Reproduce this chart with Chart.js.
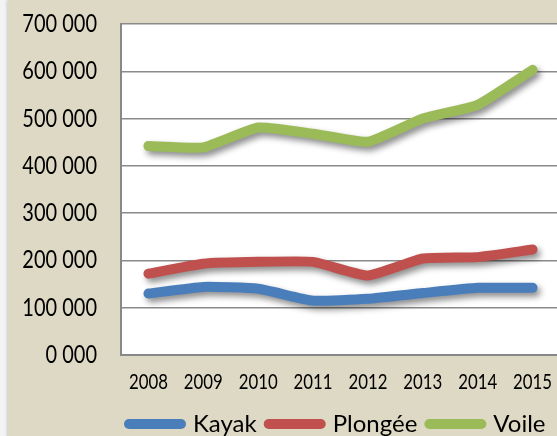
<!DOCTYPE html>
<html>
<head>
<meta charset="utf-8">
<script src="https://cdn.jsdelivr.net/npm/chart.js@4/dist/chart.umd.min.js"></script>
<style>
  html, body { margin: 0; padding: 0; width: 557px; height: 436px; overflow: hidden; background: #f3f3f3; }
  #wrap { position: absolute; left: 8px; top: 0; width: 560px; height: 446px; background: #ddd9c4;
          box-shadow: -1px 0 3px rgba(0,0,0,0.18); }
  canvas { display: block; }
</style>
</head>
<body>
<div id="wrap"><canvas id="c" width="560" height="446"></canvas></div>
<script>
// Fréquentation par activité nautique, 2008–2015
const years = ['2008', '2009', '2010', '2011', '2012', '2013', '2014', '2015'];
const kayak = [130000, 144000, 140000, 115000, 119000, 131000, 142000, 142000];
const plongee = [172000, 193000, 197000, 197000, 168000, 204000, 207000, 223000];
const voile = [442000, 439000, 481000, 468000, 451000, 500000, 529000, 603000];
const yTickLabels = ['0 000', '100 000', '200 000', '300 000', '400 000', '500 000', '600 000', '700 000'];

const GRID = '#8a8a8a';
const AXIS = '#888888';
const TICK_FONT = 'Lato, "Open Sans", sans-serif';
const LEGEND_PAD = 12;

// Axis labels use a condensed face: squeeze them horizontally while the chart paints
const condensedText = {
  id: 'condensedText',
  beforeDraw(chart) {
    const ctx = chart.ctx;
    const orig = ctx.fillText;
    const squeeze = new Map();
    yTickLabels.forEach(t => squeeze.set(t, 0.8));
    years.forEach(t => squeeze.set(t, 0.8));
    chart.$origFillText = orig;
    ctx.fillText = function (text, x, y, maxWidth) {
      const k = squeeze.get(String(text));
      if (k && maxWidth === undefined) {
        return orig.call(this, text, x, y, this.measureText(text).width * k);
      }
      return maxWidth === undefined ? orig.call(this, text, x, y) : orig.call(this, text, x, y, maxWidth);
    };
  },
  afterDraw(chart) {
    if (chart.$origFillText) chart.ctx.fillText = chart.$origFillText;
  }
};

// Legend row starts just under the plot's left edge and stays on one line
const legendPlacement = {
  id: 'legendPlacement',
  afterLayout(chart) {
    const lg = chart.legend;
    if (lg) {
      lg.left = chart.chartArea.left + 8 - LEGEND_PAD;
      lg.right = chart.width + 100;
    }
  }
};

// Soft drop shadow under each series line
const lineShadow = {
  id: 'lineShadow',
  beforeDatasetDraw(chart) {
    const ctx = chart.ctx;
    ctx.save();
    ctx.shadowColor = 'rgba(0,0,0,0.45)';
    ctx.shadowBlur = 6;
    ctx.shadowOffsetX = 3;
    ctx.shadowOffsetY = 4;
  },
  afterDatasetDraw(chart) {
    chart.ctx.restore();
  }
};

// White plot area behind the grid
const plotBg = {
  id: 'plotBg',
  beforeDraw(chart) {
    const { ctx, chartArea: a } = chart;
    ctx.save();
    ctx.fillStyle = '#ffffff';
    ctx.fillRect(a.left, a.top, a.right - a.left, a.bottom - a.top);
    ctx.restore();
  }
};

function series(label, data, color) {
  return {
    label, data,
    borderColor: color,
    backgroundColor: color,
    borderWidth: 10,
    borderCapStyle: 'round',
    borderJoinStyle: 'round',
    pointRadius: 0,
    pointHoverRadius: 0,
    pointStyle: 'line',
    tension: 0.15,
    fill: false
  };
}

new Chart(document.getElementById('c'), {
  type: 'line',
  data: {
    labels: years,
    datasets: [
      series('Kayak', kayak, '#4a7ebb'),
      series('Plongée', plongee, '#c0504d'),
      series('Voile', voile, '#9bbb59')
    ]
  },
  options: {
    responsive: false,
    animation: false,
    events: [],
    layout: { padding: { top: 24, right: 8, left: 0, bottom: 0 } },
    plugins: {
      tooltip: { enabled: false },
      legend: {
        position: 'bottom',
        align: 'start',
        labels: {
          usePointStyle: true,
          pointStyleWidth: 52,
          padding: LEGEND_PAD,
          color: '#000000',
          font: { family: TICK_FONT, size: 24 },
          generateLabels(chart) {
            const items = Chart.defaults.plugins.legend.labels.generateLabels(chart);
            items.forEach((it) => {
              const ds = chart.data.datasets[it.datasetIndex];
              it.lineCap = 'round';
              it.lineWidth = 10;
              it.strokeStyle = ds.borderColor;
              it.fillStyle = ds.borderColor;
            });
            return items;
          }
        }
      }
    },
    scales: {
      x: {
        offset: true,
        grid: { display: false, drawTicks: false },
        border: { display: true, color: AXIS, width: 2 },
        ticks: {
          color: '#000000',
          padding: 15,
          maxRotation: 0,
          autoSkip: false,
          font: { family: TICK_FONT, size: 21 }
        },
        afterFit(scale) { scale.height = 45; scale.paddingLeft = 0; scale.paddingRight = 0; }
      },
      y: {
        min: 0,
        max: 700000,
        grid: { color: GRID, lineWidth: 1.5, drawTicks: false },
        border: { display: true, color: AXIS, width: 2 },
        ticks: {
          stepSize: 100000,
          padding: 24,
          color: '#000000',
          font: { family: TICK_FONT, size: 25 },
          callback: (v) => yTickLabels[Math.round(v / 100000)]
        },
        afterFit(scale) { scale.width = 113; scale.paddingTop = 0; scale.paddingBottom = 0; }
      }
    }
  },
  plugins: [plotBg, lineShadow, condensedText, legendPlacement]
});
</script>
</body>
</html>
